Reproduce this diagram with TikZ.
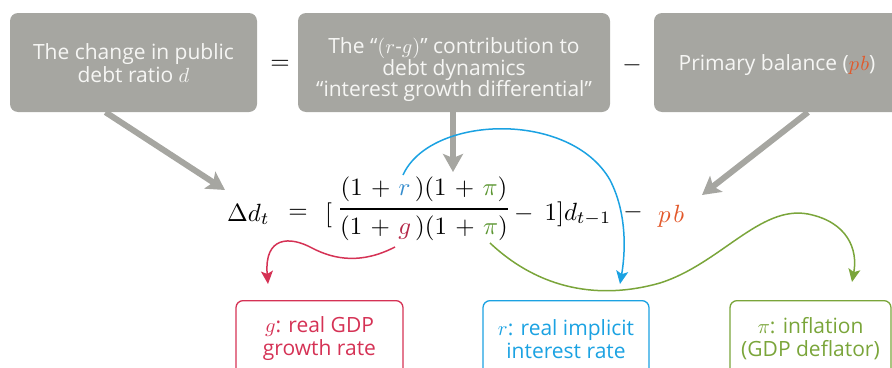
\documentclass[tikz,border=0pt]{standalone}
\usepackage[no-math]{fontspec}
\newfontfamily\osans{Open Sans}
\usetikzlibrary{arrows.meta}
\definecolor{boxgray}{RGB}{166,166,161}
\definecolor{boxtext}{RGB}{246,246,244}
\definecolor{cred}{RGB}{213,50,85}
\definecolor{cblue}{RGB}{27,162,226}
\definecolor{cgreen}{RGB}{122,165,58}
\definecolor{cpb}{RGB}{226,88,42}
\definecolor{eqr}{RGB}{52,140,205}
\definecolor{eqg}{RGB}{180,40,72}
\definecolor{eqpi}{RGB}{92,150,50}
\newcommand{\eqbig}[1]{\scalebox{2.49}{$\medmuskip=6mu #1$}}
\newcommand{\tm}[1]{\scalebox{2.05}{\fontsize{10}{12}\selectfont$#1$}}
\begin{document}
\begin{tikzpicture}[x=1pt,y=-1pt,
  topbox/.style={fill=boxgray, rounded corners=8pt, inner sep=0pt},
  toptext/.style={text=boxtext, align=center, inner sep=0pt,
    font=\osans\fontsize{21}{23.5}\selectfont},
  botbox/.style={draw=#1, text=#1, line width=1.3pt, rounded corners=7pt, align=center, inner sep=0pt,
    anchor=north, minimum height=76, font=\osans\fontsize{21}{23}\selectfont},
  grayarrow/.style={draw=boxgray, line width=6pt, -{Stealth[length=18pt,width=20pt,inset=4pt]}},
  curvearrow/.style={draw=#1, line width=1.5pt, -{Stealth[length=13pt,width=12pt,inset=3pt]}},
  eq/.style={inner sep=0pt, font=\fontsize{10}{12}\selectfont},
  opsign/.style={inner sep=0pt, font=\fontsize{10}{12}\selectfont}
]
\useasboundingbox (0,0) rectangle (892,367);

% top boxes
\node[topbox, minimum width=247, minimum height=99] (b1) at (133.5,62.5) {};
\node[toptext] (b1t) at (133.5,63) {The change in public\\debt ratio \tm{d}};
\node[topbox, minimum width=312, minimum height=99] (b2) at (454,62.5) {};
\node[toptext, font=\osans\fontsize{21}{21.5}\selectfont] (b2t) at (454,70)
  {The “\tm{(r\mbox{-}g)}” contribution to\\debt dynamics\\“interest growth differential”};
\node[topbox, minimum width=246, minimum height=99] (b3) at (777,62.5) {};
\node[toptext] (b3t) at (777,65) {Primary balance (\textcolor{cpb}{\tm{p\mkern1mu b}})};
\node[opsign] (s1) at (280,65) {\eqbig{=}};
\node[opsign] (s2) at (632,65) {\eqbig{-}};

% equation
\node[eq, anchor=base west] (dd) at (227,221) {\eqbig{\Delta d_t}};
\node[eq, anchor=base] (eqs) at (298,218) {\eqbig{=}};
\node[eq, anchor=base west] (lb) at (325,221) {\eqbig{[}};
\node[eq, anchor=base] (fr) at (424,215)
  {\eqbig{\displaystyle{(1+\textcolor{eqr}{r}\,)(1+\textcolor{eqpi}{\pi}) \above 0.8pt (1+\textcolor{eqg}{g}\,)(1+\textcolor{eqpi}{\pi})}}};
\node[eq, anchor=base west] (rest) at (514,220) {\eqbig{\mathord{-}\;\,1]d_{t-1}}};
\node[eq, anchor=base] (mn) at (633,218) {\eqbig{-}};
\node[eq, anchor=base] (pb) at (671,222) {\eqbig{\textcolor{cpb}{p\mkern2mu b}}};

% bottom boxes
\node[botbox=cred, minimum width=167] (gb) at (319.5,300) {\tm{g}: real GDP\\growth rate};
\node[botbox=cblue, minimum width=166] (rb) at (566,300) {\tm{r}: real implicit\\interest rate};
\node[botbox=cgreen, minimum width=161] (pib) at (810.5,300) {\tm{\pi}: inflation\\(GDP deflator)};

% gray arrows
\coordinate (t1) at (225,190);
\coordinate (t2) at (453,172);
\coordinate (t3) at (702,195);
\draw[grayarrow] ([xshift=-28pt]b1.south) -- (t1);
\draw[grayarrow] ([xshift=-1pt]b2.south) -- (t2);
\draw[grayarrow] ([xshift=31pt]b3.south) -- (t3);

% coloured curves
\coordinate (rtop) at (403,175);
\coordinate (gbot) at (395,247);
\coordinate (pibot) at (490,243);
\coordinate (gend) at (268,284);
\coordinate (rend) at (620,284);
\coordinate (piend) at (852,282);
\draw[curvearrow=cred] (gbot) .. controls (362,264) and (335,260) .. (312,248)
  .. controls (290,236) and (264,236) .. (gend);
\draw[curvearrow=cblue] (rtop) .. controls (430,115) and (570,110) .. (610,180)
  .. controls (628,215) and (625,255) .. (rend);
\draw[curvearrow=cgreen] (pibot) .. controls (540,290) and (600,300) .. (660,283)
  .. controls (720,264) and (760,205) .. (808,214)
  .. controls (848,222) and (858,250) .. (piend);
\end{tikzpicture}
\end{document}
